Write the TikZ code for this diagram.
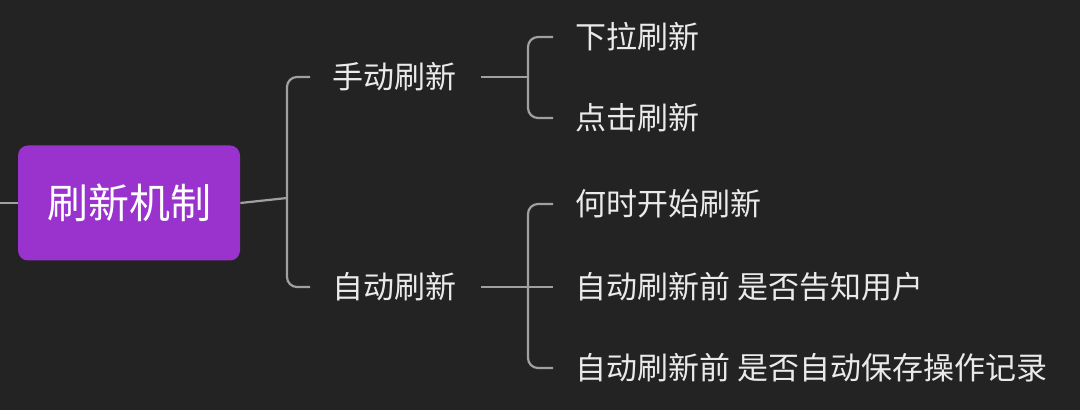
\documentclass[tikz,border=0pt]{standalone}
\usepackage{fontspec}
\newfontfamily\cjk{Noto Sans CJK SC}
\usetikzlibrary{positioning}
\definecolor{bgdark}{HTML}{232323}
\definecolor{rootpurple}{HTML}{9A32CD}
\definecolor{linegray}{HTML}{A0A0A0}
\definecolor{textwhite}{HTML}{EAEAEA}

\tikzset{%
  x=0.5pt, y=-0.5pt,
  rootbox/.style={fill=rootpurple, rounded corners=5pt, text=white,
    font=\cjk\fontsize{20.5}{24}\selectfont, minimum width=111pt,
    minimum height=57.5pt, inner sep=0pt},
  topic/.style={text=textwhite, font=\cjk\fontsize{15.5}{18}\selectfont,
    anchor=west, inner sep=0pt},
  link/.style={draw=linegray, line width=1.1pt, rounded corners=5pt}
}

\begin{document}
\begin{tikzpicture}
%% background
\fill[bgdark] (0,0) rectangle (1080,410);
\useasboundingbox (0,0) rectangle (1080,410);

%% nodes
\node[rootbox] (root) at (129,203) {刷新机制};
\node[topic] (manual) at (332,77) {手动刷新};
\node[topic] (auto) at (332,287) {自动刷新};
\node[topic] (pull) at (575,37) {下拉刷新};
\node[topic] (click) at (575,118) {点击刷新};
\node[topic] (when) at (575,204) {何时开始刷新};
\node[topic] (notify) at (575,287) {自动刷新前\ 是否告知用户};
\node[topic] (save) at (575,368) {自动刷新前\ 是否自动保存操作记录};

\coordinate (lefte) at (0,203);
\coordinate (hub) at (287,198);
\coordinate (mhub) at (528,77);
\coordinate (ahub) at (528,287);

%% connectors
\draw[link] (lefte) -- (root.west);
\draw[link] (root.east) -- (hub);
\draw[link] (hub) |- ([xshift=-11pt]manual.west);
\draw[link] (hub) |- ([xshift=-11pt]auto.west);
\draw[link] ([xshift=12pt]manual.east) -- (mhub);
\draw[link] (mhub) |- ([xshift=-11pt]pull.west);
\draw[link] (mhub) |- ([xshift=-11pt]click.west);
\draw[link] ([xshift=12pt]auto.east) -- (ahub) -- ([xshift=-11pt]notify.west);
\draw[link] (ahub) |- ([xshift=-11pt]when.west);
\draw[link] (ahub) |- ([xshift=-11pt]save.west);
\end{tikzpicture}
\end{document}
